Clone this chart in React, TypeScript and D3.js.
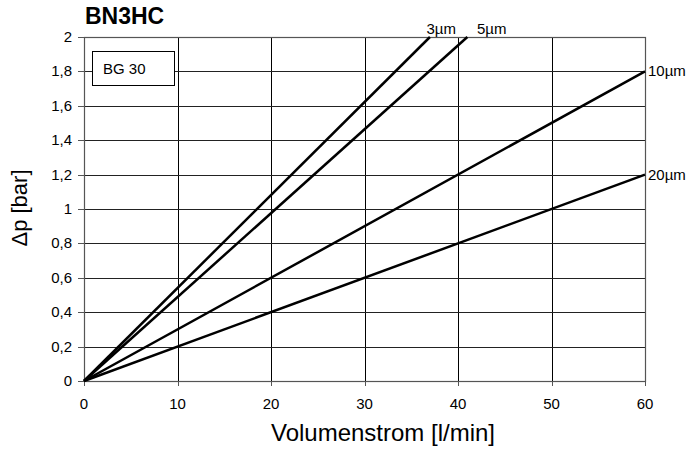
import React from 'react';
import { scaleLinear, line } from 'd3';

const filterLabels = ['3µm', '5µm', '10µm', '20µm'];
const flowEnd = [37, 41, 60, 60]; // l/min where each line leaves the plot
const dpEnd = [2, 2, 1.8, 1.2]; // bar at that flow
const labelFlow = [38.2, 43.6, 60, 60]; // where the series label sits (l/min)
const labelDp = [2, 2, 1.8, 1.2];
const labelAnchor = ['middle', 'middle', 'start', 'start'];

const xTicks = [0, 10, 20, 30, 40, 50, 60];
const yTicks = [0, 0.2, 0.4, 0.6, 0.8, 1, 1.2, 1.4, 1.6, 1.8, 2];

const WIDTH = 691;
const HEIGHT = 453;
const MARGIN = { TOP: 37, BOTTOM: 72, LEFT: 84, RIGHT: 46 };
const FONT = '"Liberation Sans", Arial, sans-serif';

const fmt = (v: number): string => String(Math.round(v * 10) / 10).replace('.', ',');

export default function App(): JSX.Element {
  const x = scaleLinear()
    .domain([0, 60])
    .range([MARGIN.LEFT, WIDTH - MARGIN.RIGHT]);
  const y = scaleLinear()
    .domain([0, 2])
    .range([HEIGHT - MARGIN.BOTTOM, MARGIN.TOP]);

  const path = line<[number, number]>()
    .x((d) => x(d[0]))
    .y((d) => y(d[1]));

  const x0 = x(0);
  const x1 = x(60);
  const y0 = y(0);
  const y1 = y(2);

  return (
    <svg
      width={WIDTH}
      height={HEIGHT}
      style={{ position: 'absolute', left: 0, top: 0, background: '#fff' }}
      fontFamily={FONT}
    >
      {/* title */}
      <text x={85} y={24} fontSize={23} fontWeight="bold">
        BN3HC
      </text>

      {/* grid */}
      {xTicks.slice(1, -1).map((t) => (
        <line
          key={`gx${t}`}
          x1={Math.round(x(t)) + 0.5}
          x2={Math.round(x(t)) + 0.5}
          y1={y1}
          y2={y0}
          stroke="#000"
          strokeWidth={1}
        />
      ))}
      {yTicks.slice(1, -1).map((t) => (
        <line
          key={`gy${t}`}
          x1={x0}
          x2={x1}
          y1={Math.round(y(t)) + 0.5}
          y2={Math.round(y(t)) + 0.5}
          stroke="#222"
          strokeWidth={1}
        />
      ))}

      {/* frame */}
      <rect
        x={Math.round(x0) + 0.5}
        y={Math.round(y1) + 0.5}
        width={Math.round(x1) - Math.round(x0)}
        height={Math.round(y0) - Math.round(y1)}
        fill="none"
        stroke="#555"
        strokeWidth={1.2}
      />

      {/* y axis ticks + labels */}
      {yTicks.map((t) => (
        <g key={`ty${t}`}>
          <line
            x1={x0 - 6}
            x2={x0}
            y1={Math.round(y(t)) + 0.5}
            y2={Math.round(y(t)) + 0.5}
            stroke="#555"
          />
          <text x={72} y={y(t) + 5} fontSize={15} textAnchor="end">
            {fmt(t)}
          </text>
        </g>
      ))}

      {/* x axis ticks + labels */}
      {xTicks.map((t) => (
        <g key={`tx${t}`}>
          <line
            x1={Math.round(x(t)) + 0.5}
            x2={Math.round(x(t)) + 0.5}
            y1={y0}
            y2={y0 + 5}
            stroke="#555"
          />
          <text x={x(t)} y={y0 + 28} fontSize={15} textAnchor="middle">
            {t}
          </text>
        </g>
      ))}

      {/* axis titles */}
      <text x={383} y={441} fontSize={24} textAnchor="middle">
        Volumenstrom [l/min]
      </text>
      <text
        transform={`translate(27, 208) rotate(-90)`}
        fontSize={22}
        textAnchor="middle"
      >
        Δp [bar]
      </text>

      {/* BG 30 box */}
      <rect x={92.5} y={51.5} width={82} height={34} fill="#fff" stroke="#000" strokeWidth={1} />
      <text x={103} y={74} fontSize={15}>
        BG 30
      </text>

      {/* pressure drop lines */}
      {filterLabels.map((lab, i) => (
        <path
          key={lab}
          d={path([
            [0, 0],
            [flowEnd[i], dpEnd[i]],
          ]) || ''}
          fill="none"
          stroke="#000"
          strokeWidth={2.5}
        />
      ))}
      {filterLabels.map((lab, i) => (
        <text
          key={`l${lab}`}
          x={x(labelFlow[i]) + (labelAnchor[i] === 'start' ? 3 : 0)}
          y={y(labelDp[i]) + (labelAnchor[i] === 'start' ? 5 : -3)}
          fontSize={15}
          textAnchor={labelAnchor[i] as 'middle' | 'start'}
        >
          {lab}
        </text>
      ))}
    </svg>
  );
}
